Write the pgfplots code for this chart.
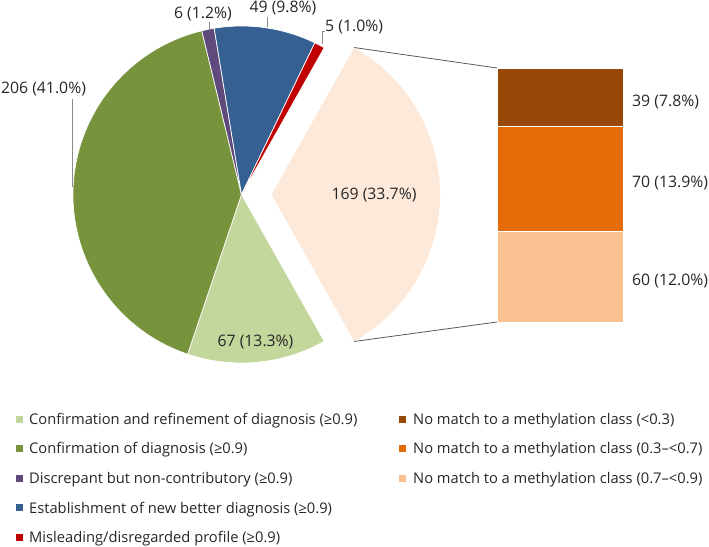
\documentclass[border=0pt]{standalone}
\usepackage{pgfplots}
\usepackage{pgfplotstable}
\pgfplotsset{compat=1.18}
\usepackage{fontspec}
\setmainfont{Open Sans}
\definecolor{cLG}{HTML}{C3D69B}
\definecolor{cG}{HTML}{77933C}
\definecolor{cP}{HTML}{604A7B}
\definecolor{cB}{HTML}{376092}
\definecolor{cR}{HTML}{C00000}
\definecolor{cO}{HTML}{FDE9D9}
\definecolor{cK1}{HTML}{974706}
\definecolor{cK2}{HTML}{E36C09}
\definecolor{cK3}{HTML}{FAC08F}
\definecolor{txt}{HTML}{262626}

\pgfplotstableread{
value
67
206
6
49
5
169
}\pietable

\pgfplotstableread{
x value
0 60
}\barC
\pgfplotstableread{
x value
0 70
}\barB
\pgfplotstableread{
x value
0 39
}\barA

\newcommand\lab{\fontsize{15.8bp}{18bp}\selectfont}
\newcommand\leg{\fontsize{14.7bp}{17bp}\selectfont}

\begin{document}%
\begin{tikzpicture}
\pgfplotstablegetelem{0}{value}\of\pietable\let\vA\pgfplotsretval
\pgfplotstablegetelem{1}{value}\of\pietable\let\vB\pgfplotsretval
\pgfplotstablegetelem{2}{value}\of\pietable\let\vC\pgfplotsretval
\pgfplotstablegetelem{3}{value}\of\pietable\let\vD\pgfplotsretval
\pgfplotstablegetelem{4}{value}\of\pietable\let\vE\pgfplotsretval
\pgfplotstablegetelem{5}{value}\of\pietable\let\vF\pgfplotsretval
\pgfmathsetmacro\tot{\vA+\vB+\vC+\vD+\vE+\vF}%
\pgfmathsetmacro\aO{\vF/\tot*180}%
\pgfmathsetmacro\aA{-\aO}%
\pgfmathsetmacro\aB{\aA-\vA/\tot*360}%
\pgfmathsetmacro\aC{\aB-\vB/\tot*360}%
\pgfmathsetmacro\aD{\aC-\vC/\tot*360}%
\pgfmathsetmacro\aE{\aD-\vD/\tot*360}%
\pgfmathsetmacro\aF{\aE-\vE/\tot*360}%
\def\cx{241.5}\def\cy{194.5}\def\R{168.5}%
\useasboundingbox (0,0) rectangle (709bp,547bp);
\begin{axis}[
  at={(0,0)}, anchor=south west,
  scale only axis, width=709bp, height=547bp,
  xmin=0, xmax=709, ymin=0, ymax=547, y dir=reverse,
  hide axis, clip=false]
% pie wedges
\fill[cLG, draw=white, line width=0.7bp] (axis cs:\cx,\cy) -- ++(\aA:\R bp) arc[start angle=\aA, end angle=\aB, radius=\R bp] -- cycle;
\fill[cG, draw=white, line width=0.7bp] (axis cs:\cx,\cy) -- ++(\aB:\R bp) arc[start angle=\aB, end angle=\aC, radius=\R bp] -- cycle;
\fill[cP, draw=white, line width=0.7bp] (axis cs:\cx,\cy) -- ++(\aC:\R bp) arc[start angle=\aC, end angle=\aD, radius=\R bp] -- cycle;
\fill[cB, draw=white, line width=0.7bp] (axis cs:\cx,\cy) -- ++(\aD:\R bp) arc[start angle=\aD, end angle=\aE, radius=\R bp] -- cycle;
\fill[cR, draw=white, line width=0.7bp] (axis cs:\cx,\cy) -- ++(\aE:\R bp) arc[start angle=\aE, end angle=\aF, radius=\R bp] -- cycle;
% exploded "other" wedge
\fill[cO] (axis cs:\cx+30,\cy) -- ++(\aO:\R bp) arc[start angle=\aO, end angle=\aA, radius=\R bp] -- cycle;
% connector lines
\draw[black!65, line width=0.8bp] (axis cs:354,47.5) -- (axis cs:497,68);
\draw[black!65, line width=0.8bp] (axis cs:354,341.5) -- (axis cs:497,322);
% leader lines
\draw[black!45, line width=0.8bp] (axis cs:72,99) -- (axis cs:72,187);
\draw[black!45, line width=0.8bp] (axis cs:209,22) -- (axis cs:209,30);
\draw[black!45, line width=0.8bp] (axis cs:267,17) -- (axis cs:267,27);
\draw[black!45, line width=0.8bp] (axis cs:325,31) -- (axis cs:322,31) -- (axis cs:322,44);
% labels
\node[txt, anchor=base, inner sep=0] at (axis cs:43.5,93.3) {\lab 206 (41.0\%)};
\node[txt, anchor=base, inner sep=0] at (axis cs:203,19) {\lab 6 (1.2\%)};
\node[txt, anchor=base, inner sep=0] at (axis cs:283,12.7) {\lab 49 (9.8\%)};
\node[txt, anchor=base west, inner sep=0] at (axis cs:325,31.7) {\lab 5 (1.0\%)};
\node[txt, anchor=base, inner sep=0] at (axis cs:255.5,346.7) {\lab 67 (13.3\%)};
\node[txt, anchor=base, inner sep=0] at (axis cs:374,199) {\lab 169 (33.7\%)};
\node[txt, anchor=base west, inner sep=0] at (axis cs:632,106) {\lab 39 (7.8\%)};
\node[txt, anchor=base west, inner sep=0] at (axis cs:632,187.7) {\lab 70 (13.9\%)};
\node[txt, anchor=base west, inner sep=0] at (axis cs:632,285.3) {\lab 60 (12.0\%)};
% legend, left column
\fill[cLG] (axis cs:15.7,415.5) rectangle (axis cs:22.7,422.5);
\node[txt, anchor=base west, inner sep=0] at (axis cs:29,424) {\leg Confirmation and refinement of diagnosis (≥0.9)};
\fill[cG] (axis cs:15.7,445) rectangle (axis cs:22.7,452);
\node[txt, anchor=base west, inner sep=0] at (axis cs:29,453.8) {\leg Confirmation of diagnosis (≥0.9)};
\fill[cP] (axis cs:15.7,474.5) rectangle (axis cs:22.7,481.5);
\node[txt, anchor=base west, inner sep=0] at (axis cs:29,483.5) {\leg Discrepant but non-contributory (≥0.9)};
\fill[cB] (axis cs:15.7,504) rectangle (axis cs:22.7,511);
\node[txt, anchor=base west, inner sep=0] at (axis cs:29,513) {\leg Establishment of new better diagnosis (≥0.9)};
\fill[cR] (axis cs:15.7,533.5) rectangle (axis cs:22.7,540.5);
\node[txt, anchor=base west, inner sep=0] at (axis cs:29,542.8) {\leg Misleading/disregarded profile (≥0.9)};
% legend, right column
\fill[cK1] (axis cs:399,415.5) rectangle (axis cs:406,422.5);
\node[txt, anchor=base west, inner sep=0] at (axis cs:413,424) {\leg No match to a methylation class (<0.3)};
\fill[cK2] (axis cs:399,445) rectangle (axis cs:406,452);
\node[txt, anchor=base west, inner sep=0] at (axis cs:413,453.8) {\leg No match to a methylation class (0.3–<0.7)};
\fill[cK3] (axis cs:399,474.5) rectangle (axis cs:406,481.5);
\node[txt, anchor=base west, inner sep=0] at (axis cs:413,483.5) {\leg No match to a methylation class (0.7–<0.9)};
\end{axis}
\begin{axis}[
  at={(497bp,225bp)}, anchor=south west,
  scale only axis, width=126bp, height=254bp,
  xmin=-0.5, xmax=0.5, ymin=0, ymax=169,
  hide axis, clip=false,
  ybar stacked, bar width=126bp]
\addplot[fill=cK3, draw=white, line width=0.7bp] table[x=x, y=value] {\barC};
\addplot[fill=cK2, draw=white, line width=0.7bp] table[x=x, y=value] {\barB};
\addplot[fill=cK1, draw=white, line width=0.7bp] table[x=x, y=value] {\barA};
\end{axis}
\end{tikzpicture}%
\end{document}
